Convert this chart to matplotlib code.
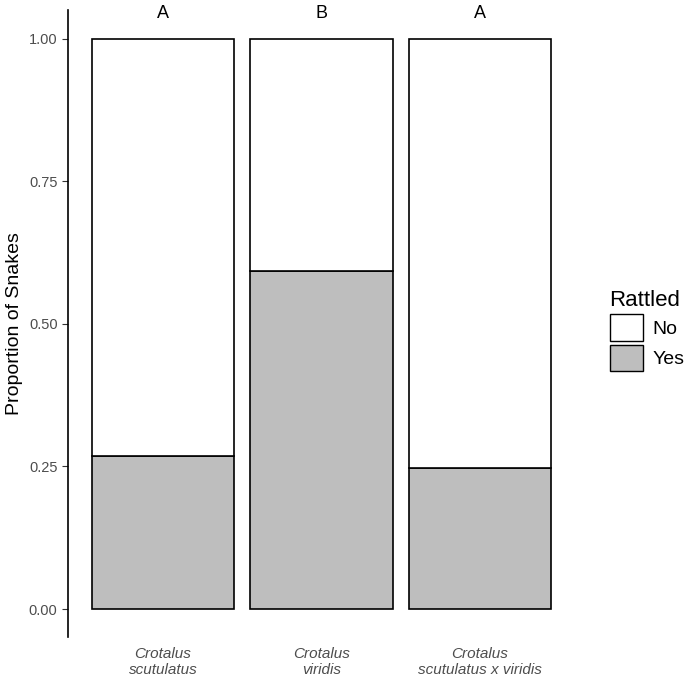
import matplotlib
matplotlib.use("Agg")
import matplotlib.pyplot as plt
from matplotlib.patches import Patch

plt.rcParams["font.family"] = "Liberation Sans"

categories = ["Crotalus\nscutulatus", "Crotalus\nviridis", "Crotalus\nscutulatus x viridis"]
yes_vals = [0.268, 0.593, 0.247]
letters = ["A", "B", "A"]
yticks = [0.00, 0.25, 0.50, 0.75, 1.00]

fig = plt.figure(figsize=(6.85, 6.83), dpi=100)
ax = fig.add_axes([68/685, 46/683, (575-68)/685, (637-10)/683])
x = list(range(1, len(categories) + 1))
no_vals = [1 - v for v in yes_vals]
ax.bar(x, yes_vals, width=0.9, color="#bebebe", edgecolor="black", linewidth=1.2)
ax.bar(x, no_vals, bottom=yes_vals, width=0.9, color="white", edgecolor="black", linewidth=1.2)
for xi, l in zip(x, letters):
    ax.text(xi, 1.044, l, ha="center", va="center", fontsize=13, color="black", clip_on=False)
ax.set_xlim(0.4, 3.6)
ax.set_ylim(-0.049, 1.05)
ax.set_yticks(yticks)
ax.set_yticklabels([f"{t:.2f}" for t in yticks], color="#4d4d4d", fontsize=10.5)
ax.set_xticks(x)
ax.set_xticklabels(categories, fontstyle="italic", color="#4d4d4d", fontsize=11)
ax.tick_params(axis="x", length=0, pad=7)
ax.tick_params(axis="y", length=4, color="#333333")
for s in ["top", "right", "bottom"]:
    ax.spines[s].set_visible(False)
ax.spines["left"].set_linewidth(1.2)
ax.set_ylabel("Proportion of Snakes", fontsize=14)
handles = [Patch(facecolor="white", edgecolor="black", label="No"),
           Patch(facecolor="#bebebe", edgecolor="black", label="Yes")]
leg = fig.legend(handles=handles, title="Rattled", loc="upper left", bbox_to_anchor=(592/685, 1 - 272/683),
                 frameon=False, fontsize=14, title_fontsize=16, handlelength=1.7, handleheight=1.7,
                 handletextpad=0.5, labelspacing=0.2, alignment="left")
fig.savefig("out.png", dpi=100)
